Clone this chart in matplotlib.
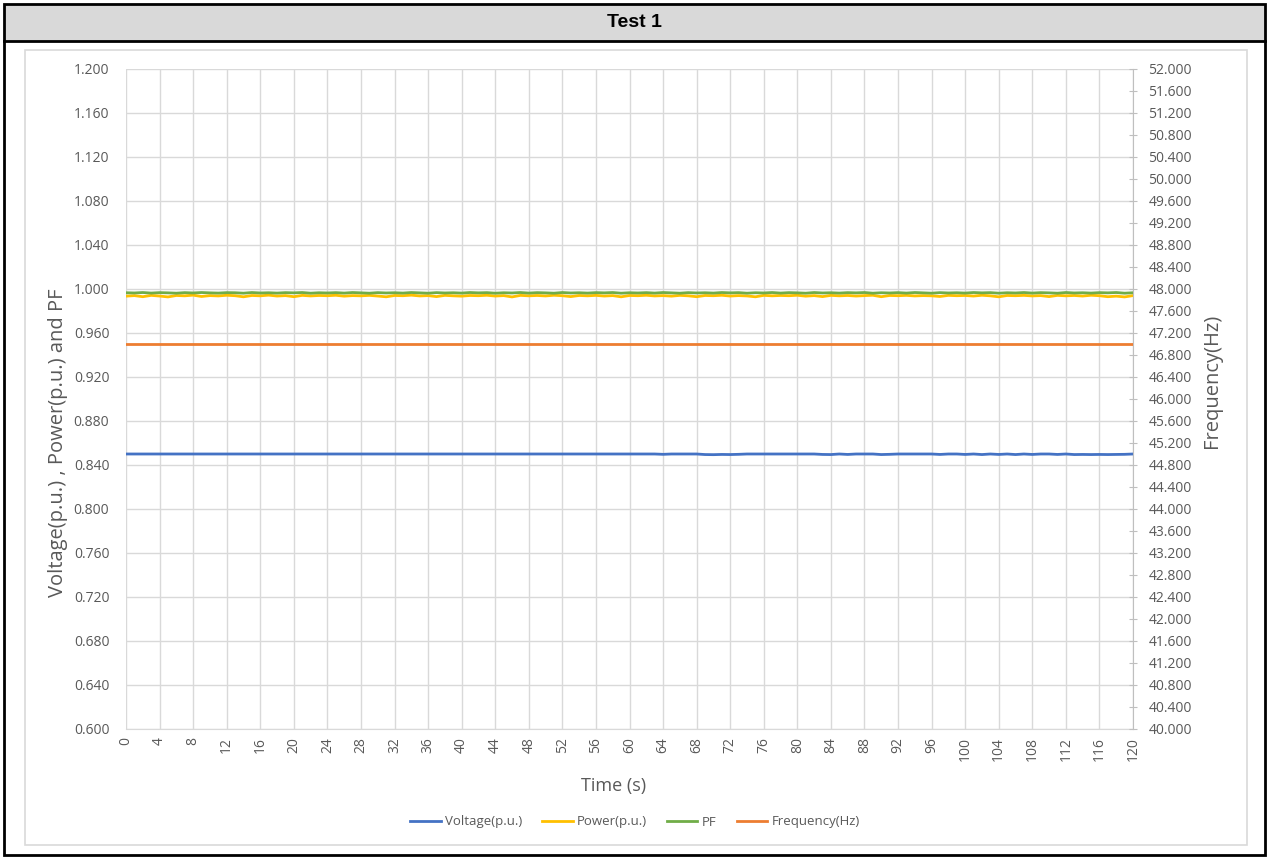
import matplotlib
matplotlib.use("Agg")
import matplotlib.pyplot as plt
from matplotlib.patches import Rectangle
from matplotlib.lines import Line2D

# ---------------- data ----------------
time_s = list(range(0, 121))  # seconds

voltage_pu = [
    0.850, 0.850, 0.850, 0.850, 0.850, 0.850, 0.850, 0.850, 0.850, 0.850,
    0.850, 0.850, 0.850, 0.850, 0.850, 0.850, 0.850, 0.850, 0.850, 0.850,
    0.850, 0.850, 0.850, 0.850, 0.850, 0.850, 0.850, 0.850, 0.850, 0.850,
    0.850, 0.850, 0.850, 0.850, 0.850, 0.850, 0.850, 0.850, 0.850, 0.850,
    0.850, 0.850, 0.850, 0.850, 0.850, 0.850, 0.850, 0.850, 0.850, 0.850,
    0.850, 0.850, 0.850, 0.850, 0.850, 0.850, 0.850, 0.850, 0.850, 0.850,
    0.850, 0.850, 0.850, 0.850, 0.8497, 0.850, 0.850, 0.850, 0.850, 0.8495,
    0.8494, 0.8496, 0.8495, 0.8497, 0.850, 0.850, 0.850, 0.850, 0.850, 0.850,
    0.850, 0.850, 0.850, 0.8496, 0.8495, 0.850, 0.8496, 0.850, 0.850, 0.850,
    0.8495, 0.8497, 0.850, 0.850, 0.850, 0.850, 0.850, 0.8496, 0.850, 0.850,
    0.8496, 0.850, 0.8495, 0.850, 0.8496, 0.850, 0.8495, 0.850, 0.8496, 0.850,
    0.850, 0.8496, 0.850, 0.8495, 0.8496, 0.8495, 0.8496, 0.8495, 0.8496, 0.8497,
    0.850,
]

power_pu = [
    0.9935, 0.9940, 0.9930, 0.9942, 0.9936, 0.9928, 0.9941, 0.9938, 0.9944, 0.9932,
    0.9940, 0.9937, 0.9943, 0.9939, 0.9929, 0.9941, 0.9938, 0.9944, 0.9936, 0.9940,
    0.9930, 0.9942, 0.9937, 0.9941, 0.9939, 0.9943, 0.9935, 0.9940, 0.9938, 0.9942,
    0.9936, 0.9929, 0.9941, 0.9939, 0.9944, 0.9937, 0.9940, 0.9931, 0.9942, 0.9938,
    0.9935, 0.9941, 0.9939, 0.9943, 0.9936, 0.9940, 0.9928, 0.9942, 0.9938, 0.9941,
    0.9937, 0.9943, 0.9939, 0.9931, 0.9941, 0.9938, 0.9942, 0.9936, 0.9940, 0.9929,
    0.9941, 0.9939, 0.9943, 0.9937, 0.9940, 0.9935, 0.9942, 0.9938, 0.9930, 0.9941,
    0.9939, 0.9943, 0.9936, 0.9940, 0.9937, 0.9929, 0.9942, 0.9938, 0.9941, 0.9939,
    0.9943, 0.9935, 0.9940, 0.9931, 0.9942, 0.9938, 0.9941, 0.9936, 0.9940, 0.9943,
    0.9930, 0.9941, 0.9939, 0.9942, 0.9937, 0.9940, 0.9938, 0.9932, 0.9942, 0.9939,
    0.9941, 0.9936, 0.9943, 0.9938, 0.9929, 0.9941, 0.9939, 0.9942, 0.9937, 0.9940,
    0.9931, 0.9942, 0.9938, 0.9941, 0.9936, 0.9943, 0.9939, 0.9930, 0.9935, 0.9928,
    0.9940,
]

pf = [
    0.9966, 0.9964, 0.9968, 0.9963, 0.9967, 0.9965, 0.9962, 0.9967, 0.9964, 0.9968,
    0.9965, 0.9963, 0.9967, 0.9966, 0.9962, 0.9968, 0.9964, 0.9966, 0.9963, 0.9967,
    0.9965, 0.9968, 0.9962, 0.9966, 0.9964, 0.9967, 0.9963, 0.9968, 0.9965, 0.9962,
    0.9967, 0.9964, 0.9966, 0.9963, 0.9968, 0.9965, 0.9962, 0.9967, 0.9964, 0.9966,
    0.9963, 0.9968, 0.9965, 0.9967, 0.9962, 0.9966, 0.9964, 0.9968, 0.9963, 0.9967,
    0.9965, 0.9962, 0.9968, 0.9964, 0.9966, 0.9963, 0.9967, 0.9965, 0.9968, 0.9962,
    0.9966, 0.9964, 0.9967, 0.9963, 0.9968, 0.9965, 0.9962, 0.9967, 0.9964, 0.9966,
    0.9963, 0.9968, 0.9965, 0.9967, 0.9962, 0.9966, 0.9964, 0.9968, 0.9963, 0.9967,
    0.9965, 0.9962, 0.9968, 0.9964, 0.9966, 0.9963, 0.9967, 0.9965, 0.9968, 0.9962,
    0.9966, 0.9964, 0.9967, 0.9963, 0.9968, 0.9965, 0.9962, 0.9967, 0.9964, 0.9966,
    0.9963, 0.9968, 0.9965, 0.9967, 0.9962, 0.9966, 0.9964, 0.9968, 0.9963, 0.9967,
    0.9965, 0.9962, 0.9968, 0.9964, 0.9966, 0.9963, 0.9967, 0.9965, 0.9968, 0.9962,
    0.9966,
]

frequency_hz = [47.0] * 121

left_ticks = [0.600, 0.640, 0.680, 0.720, 0.760, 0.800, 0.840, 0.880, 0.920,
              0.960, 1.000, 1.040, 1.080, 1.120, 1.160, 1.200]
right_ticks = [40.0, 40.4, 40.8, 41.2, 41.6, 42.0, 42.4, 42.8, 43.2, 43.6, 44.0,
               44.4, 44.8, 45.2, 45.6, 46.0, 46.4, 46.8, 47.2, 47.6, 48.0, 48.4,
               48.8, 49.2, 49.6, 50.0, 50.4, 50.8, 51.2, 51.6, 52.0]
x_ticks = list(range(0, 121, 4))

series_names = ["Voltage(p.u.)", "Power(p.u.)", "PF", "Frequency(Hz)"]
series_colors = ["#4472C4", "#FFC000", "#70AD47", "#ED7D31"]

title_text = "Test 1"
xlabel_text = "Time (s)"
ylabel_left = "Voltage(p.u.) , Power(p.u.) and PF"
ylabel_right = "Frequency(Hz)"

# ---------------- figure ----------------
W, H = 1270, 857
fig = plt.figure(figsize=(W / 100, H / 100), dpi=100)
FONT = "Open Sans"
GRAY_TXT = "#595959"
GRID = "#D9D9D9"

# background frame in pixel coordinates
bg = fig.add_axes([0, 0, 1, 1], zorder=-5)
bg.set_xlim(0, W)
bg.set_ylim(H, 0)
bg.axis("off")
bg.add_patch(Rectangle((4, 4), 1261, 37, facecolor="#D9D9D9", edgecolor="none"))
bg.add_patch(Rectangle((25, 50), 1222, 795, facecolor="white", edgecolor="#D9D9D9", lw=1.2))
bg.add_line(Line2D([4, 1265], [41, 41], color="black", lw=2.0))
bg.add_patch(Rectangle((4, 4), 1261, 851, facecolor="none", edgecolor="black", lw=2.0))
bg.text(634, 22, title_text, ha="center", va="center", fontsize=14,
        fontweight="bold", family="Liberation Sans", color="black")

# plot area
left, right, top, bottom = 126, 1133, 69, 729
ax = fig.add_axes([left / W, 1 - bottom / H, (right - left) / W, (bottom - top) / H])
ax.set_facecolor("none")

ax.plot(time_s, voltage_pu, color=series_colors[0], lw=2.0, label=series_names[0], zorder=3)
ax.plot(time_s, power_pu, color=series_colors[1], lw=2.0, label=series_names[1], zorder=3)
ax.plot(time_s, pf, color=series_colors[2], lw=2.0, label=series_names[2], zorder=4)

ax.set_xlim(0, 120)
ax.set_ylim(0.6, 1.2)
ax.set_xticks(x_ticks)
ax.set_xticklabels([str(v) for v in x_ticks], rotation=90, fontsize=10, family=FONT, color=GRAY_TXT)
ax.set_yticks(left_ticks)
ax.set_yticklabels([f"{v:.3f}" for v in left_ticks], fontsize=10, family=FONT, color=GRAY_TXT)
ax.grid(True, color=GRID, lw=1.0, zorder=0)
ax.set_axisbelow(True)
ax.tick_params(axis="x", length=0, pad=6)
ax.tick_params(axis="y", length=0, pad=12)
for s in ["top", "left", "right"]:
    ax.spines[s].set_visible(False)
ax.spines["bottom"].set_color(GRID)

ax2 = ax.twinx()
ax2.plot(time_s, frequency_hz, color=series_colors[3], lw=2.0, label=series_names[3], zorder=3)
ax2.set_ylim(40, 52)
ax2.set_yticks(right_ticks)
ax2.set_yticklabels([f"{v:.3f}" for v in right_ticks], fontsize=10, family=FONT, color=GRAY_TXT)
ax2.tick_params(axis="y", direction="inout", length=6, color="#BFBFBF", pad=8)
for s in ["top", "left", "bottom"]:
    ax2.spines[s].set_visible(False)
ax2.spines["right"].set_color("#BFBFBF")

# axis titles
fig.text(614 / W, 1 - 786 / H, xlabel_text, ha="center", va="center", fontsize=13,
         family=FONT, color=GRAY_TXT)
fig.text(58 / W, 1 - 443 / H, ylabel_left, ha="center", va="center", rotation=90,
         fontsize=14.5, family=FONT, color=GRAY_TXT)
fig.text(1212 / W, 1 - 381 / H, ylabel_right, ha="center", va="center", rotation=90,
         fontsize=14.5, family=FONT, color=GRAY_TXT)

# legend
handles = ax.get_lines() + ax2.get_lines()
fig.legend(handles, series_names, loc="center", bbox_to_anchor=(635 / W, 1 - 822 / H),
           ncol=4, frameon=False, handlelength=2.3, handletextpad=0.35,
           columnspacing=1.5, prop={"family": FONT, "size": 9.5},
           labelcolor=GRAY_TXT)

fig.savefig("out.png", dpi=100)
